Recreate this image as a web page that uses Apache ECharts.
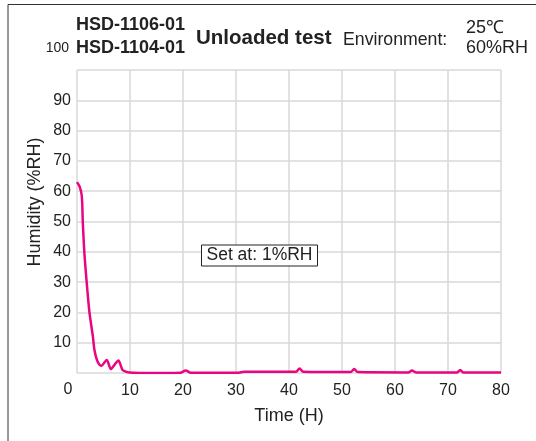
<!DOCTYPE html>
<html><head><meta charset="utf-8">
<script src="https://cdn.jsdelivr.net/npm/echarts@6/dist/echarts.min.js"></script>
<style>html,body{margin:0;padding:0;background:#fff}#c{width:536px;height:441px}</style>
</head><body><div id="c"></div>
<script>
const timeH = [0,0.5,0.9,1.1,1.4,1.85,2.35,3.0,3.3,3.9,4.6,5.6,6.4,7.0,7.8,8.6,9.5,10.5,13,19.5,20.5,21.5,30.5,31.5,41.3,42,42.7,51.6,52.3,53,62.5,63.2,64,71.7,72.3,72.9,80];
const humidity = [63,61.5,58.5,49.5,39.5,29.5,20,12,7.5,3.7,2.4,4.3,1.3,2.5,4.1,1.0,0.3,0.1,0,0.1,0.8,0.1,0.1,0.4,0.4,1.5,0.4,0.3,1.3,0.3,0.2,0.8,0.2,0.2,1.0,0.2,0.2];
const models = ['HSD-1106-01','HSD-1104-01'];
const titleText = 'Unloaded test';
const envLabel = 'Environment:';
const envValues = ['25℃','60%RH'];
const setText = 'Set at: 1%RH';
const yName = 'Humidity (%RH)';

const F = '"Liberation Sans", Arial, sans-serif';
const chart = echarts.init(document.getElementById('c'));
chart.setOption({
  animation:false,
  grid:{left:77,right:35,top:70,bottom:68},
  xAxis:{type:'value',min:0,max:80,interval:10,
    name:'Time (H)',nameLocation:'middle',nameGap:34,
    nameTextStyle:{fontFamily:F,fontSize:18,color:'#222'},
    axisLine:{show:false},axisTick:{show:false},
    splitLine:{show:true,lineStyle:{color:'#d9d9d9',width:1.5}},
    axisLabel:{showMinLabel:false,fontFamily:F,fontSize:16,color:'#222',margin:10}
  },
  yAxis:{type:'value',min:0,max:100,interval:10,
    axisLine:{show:false},axisTick:{show:false},
    splitLine:{show:true,lineStyle:{color:'#d9d9d9',width:1.5}},
    axisLabel:{showMinLabel:false,showMaxLabel:false,fontFamily:F,fontSize:16,color:'#222',margin:6}
  },
  series:[{type:'line',data:timeH.map((t,i)=>[t,humidity[i]]),smooth:0.3,symbol:'none',
    lineStyle:{color:'#e8057f',width:2.5}}],
  graphic:[
    {type:'line',shape:{x1:8,y1:4.5,x2:536,y2:4.5},style:{stroke:'#333',lineWidth:1}},
    {type:'line',shape:{x1:8,y1:4.5,x2:8,y2:441},style:{stroke:'#333',lineWidth:1}},
    {type:'text',x:35,y:202,rotation:Math.PI/2,style:{text:yName,font:'18px '+F,fill:'#222',textAlign:'center',textVerticalAlign:'middle'}},
    {type:'text',x:76,y:25,style:{text:models[0],font:'bold 18px '+F,fill:'#222',textVerticalAlign:'middle'}},
    {type:'text',x:76,y:48,style:{text:models[1],font:'bold 18px '+F,fill:'#222',textVerticalAlign:'middle'}},
    {type:'text',x:69,y:48,style:{text:'100',font:'14px '+F,fill:'#222',textAlign:'right',textVerticalAlign:'middle'}},
    {type:'text',x:196,y:38,style:{text:titleText,font:'bold 20.5px '+F,fill:'#222',textVerticalAlign:'middle'}},
    {type:'text',x:343,y:40,style:{text:envLabel,font:'17.7px '+F,fill:'#222',textVerticalAlign:'middle'}},
    {type:'text',x:466,y:28,style:{text:envValues[0],font:'18px '+F,fill:'#222',textVerticalAlign:'middle'}},
    {type:'text',x:466,y:48,style:{text:envValues[1],font:'18px '+F,fill:'#222',textVerticalAlign:'middle'}},
    {type:'text',x:68,y:390,style:{text:'0',font:'16px '+F,fill:'#222',textAlign:'center',textVerticalAlign:'middle'}},
    {type:'rect',shape:{x:201.5,y:245,width:116,height:21},style:{fill:'#fff',stroke:'#222',lineWidth:1},z:10},
    {type:'text',x:259.5,y:255.5,z:11,style:{text:setText,font:'17.5px '+F,fill:'#222',textAlign:'center',textVerticalAlign:'middle'}}
  ]
});
</script></body></html>
